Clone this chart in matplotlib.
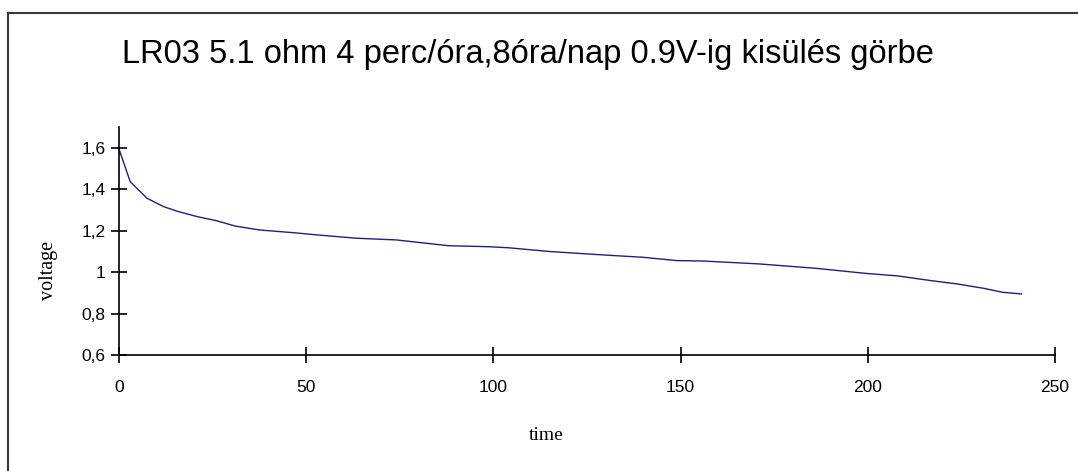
import matplotlib
matplotlib.use("Agg")
import matplotlib.pyplot as plt
from matplotlib.lines import Line2D

# discharge curve
time = [0, 3, 7.5, 12, 16, 21, 26, 31, 37.5, 46.5, 53, 63.5, 74, 88, 99, 104,
        115, 127, 140, 149, 156, 171, 186, 192, 199, 208, 217, 224, 231, 236, 241]
voltage = [1.595, 1.437, 1.357, 1.316, 1.292, 1.268, 1.249, 1.223, 1.204, 1.191,
           1.18, 1.164, 1.156, 1.128, 1.123, 1.118, 1.10, 1.086, 1.072, 1.056,
           1.054, 1.04, 1.019, 1.008, 0.995, 0.982, 0.959, 0.943, 0.922, 0.903, 0.895]

x_ticks = [0, 50, 100, 150, 200, 250]
y_ticks = [0.6, 0.8, 1.0, 1.2, 1.4, 1.6]
y_tick_labels = ["0,6", "0,8", "1", "1,2", "1,4", "1,6"]

title = "LR03 5.1 ohm 4 perc/óra,8óra/nap 0.9V-ig kisülés görbe"

W, H = 1078, 471
fig = plt.figure(figsize=(W / 100, H / 100), dpi=100)

# frame around the chart (top and left edges only are visible)
fig.add_artist(Line2D([7.5 / W, 1.0], [1 - 12.5 / H, 1 - 12.5 / H],
                      transform=fig.transFigure, color="#3a3a3a", lw=1.5))
fig.add_artist(Line2D([7.5 / W, 7.5 / W], [0.0, 1 - 12.5 / H],
                      transform=fig.transFigure, color="#3a3a3a", lw=1.5))

ax = fig.add_axes([119 / W, 116 / H, 936 / W, 227.7 / H])
ax.plot(time, voltage, color="#1e1e85", lw=1.0)

ax.set_xlim(0, 250)
ax.set_ylim(0.6, 1.7)
ax.set_xticks(x_ticks)
ax.set_yticks(y_ticks)
ax.set_yticklabels(y_tick_labels)

for side in ["top", "right"]:
    ax.spines[side].set_visible(False)
for side in ["left", "bottom"]:
    ax.spines[side].set_linewidth(1.2)
    ax.spines[side].set_color("black")

ax.tick_params(axis="both", direction="inout", length=11.5, width=1.2,
               labelsize=12.5, colors="black")
ax.tick_params(axis="x", pad=12)
ax.tick_params(axis="y", pad=4)
for lab in ax.get_xticklabels() + ax.get_yticklabels():
    lab.set_family("Liberation Sans")

fig.text(528 / W, 1 - 55 / H, title, ha="center", va="center",
         fontsize=23.5, family="Liberation Sans")
fig.text(546 / W, 1 - 436 / H, "time", ha="center", va="center",
         fontsize=14, family="Liberation Serif")
fig.text(48 / W, 1 - 270 / H, "voltage", ha="center", va="center",
         fontsize=14.5, family="Liberation Serif", rotation=90)

fig.savefig("out.png", dpi=100)
